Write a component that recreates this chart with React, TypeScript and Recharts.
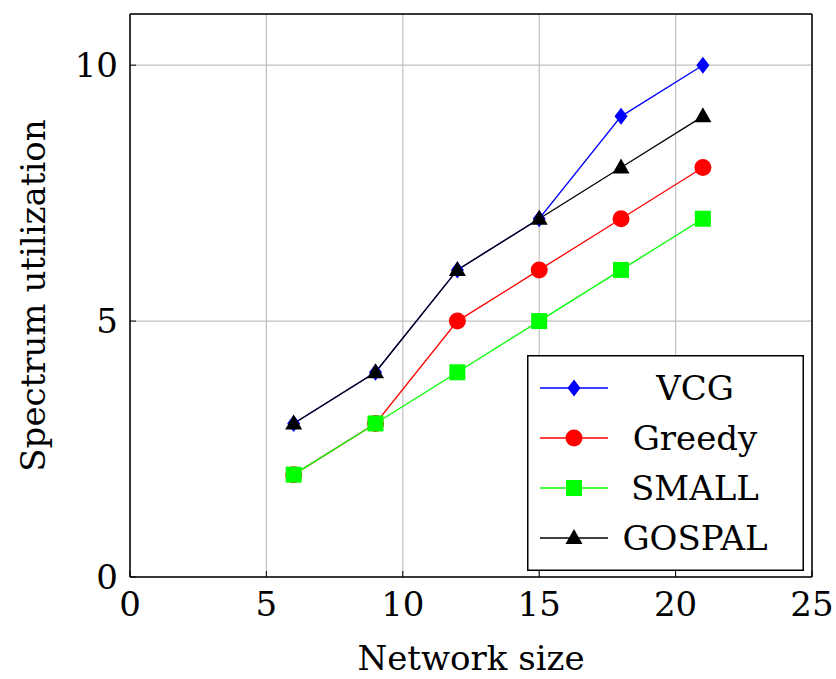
import React from 'react';
import { LineChart, Line, XAxis, YAxis, CartesianGrid } from 'recharts';

const networkSize = [6, 9, 12, 15, 18, 21];
const vcg = [3, 4, 6, 7, 9, 10];
const greedy = [2, 3, 5, 6, 7, 8];
const small = [2, 3, 4, 5, 6, 7];
const gospal = [3, 4, 6, 7, 8, 9];

const xTicks = [0, 5, 10, 15, 20, 25];
const yTicks = [0, 5, 10];

const FONT = '"DejaVu Serif", serif';

const data = networkSize.map((n, i) => ({
  n,
  vcg: vcg[i],
  greedy: greedy[i],
  small: small[i],
  gospal: gospal[i],
}));

function Marker({ shape, cx, cy, color }: { shape: string; cx: number; cy: number; color: string }) {
  if (shape === 'diamond')
    return <polygon points={`${cx},${cy - 8.5} ${cx + 6.5},${cy} ${cx},${cy + 8.5} ${cx - 6.5},${cy}`} fill={color} />;
  if (shape === 'circle') return <circle cx={cx} cy={cy} r={8.5} fill={color} />;
  if (shape === 'square') return <rect x={cx - 8} y={cy - 8} width={16} height={16} fill={color} />;
  return <polygon points={`${cx},${cy - 9} ${cx + 8.5},${cy + 6} ${cx - 8.5},${cy + 6}`} fill={color} />;
}

const series = [
  { key: 'vcg', name: 'VCG', color: '#0000ff', shape: 'diamond' },
  { key: 'greedy', name: 'Greedy', color: '#ff0000', shape: 'circle' },
  { key: 'small', name: 'SMALL', color: '#00ff00', shape: 'square' },
  { key: 'gospal', name: 'GOSPAL', color: '#000000', shape: 'triangle' },
];

const LegendBox = () => (
  <svg width={277} height={216} style={{ display: 'block', position: 'absolute', left: 527, top: 355 }}>
    <rect x={0.75} y={0.75} width={275.5} height={214.5} fill="#fff" stroke="#000" strokeWidth={1.5} />
    {series.map((s, i) => {
      const y = 33 + i * 50;
      return (
        <g key={s.key}>
          <line x1={13} x2={81} y1={y} y2={y} stroke={s.color} strokeWidth={1.3} />
          <Marker shape={s.shape} cx={47} cy={y} color={s.color} />
          <text x={168} y={y} textAnchor="middle" dominantBaseline="central" fontFamily={FONT} fontSize={34} fill="#000">
            {s.name}
          </text>
        </g>
      );
    })}
  </svg>
);

const YLabel = (props: any) => {
  const vb = props.viewBox || { x: 0, y: 13, width: 130, height: 564 };
  const cx = vb.x + 33;
  const cy = vb.y + vb.height / 2;
  return (
    <text x={cx} y={cy} transform={`rotate(-90 ${cx} ${cy})`} textAnchor="middle" dominantBaseline="central" fontFamily={FONT} fontSize={34} fill="#000">
      Spectrum utilization
    </text>
  );
};

const XLabel = (props: any) => {
  const vb = props.viewBox || { x: 130, y: 577, width: 683, height: 102 };
  const cx = vb.x + vb.width / 2;
  return (
    <text x={cx} y={vb.y + 93} textAnchor="middle" fontFamily={FONT} fontSize={34} fill="#000">
      Network size
    </text>
  );
};

export default function App() {
  const tickStyle = { fontFamily: FONT, fontSize: 34, fill: '#000' };
  return (
    <div style={{ position: 'absolute', left: 0, top: 0, width: 836, height: 679, background: '#fff' }}>
      <LineChart width={836} height={679} data={data} margin={{ top: 13, right: 23, left: 0, bottom: 0 }}>
        <CartesianGrid stroke="#c0c0c0" strokeWidth={1.2} />
        <XAxis
          dataKey="n"
          type="number"
          domain={[0, 25]}
          ticks={xTicks}
          height={102}
          tick={tickStyle}
          tickSize={-6}
          tickMargin={21}
          axisLine={{ stroke: '#000', strokeWidth: 1.5 }}
          tickLine={{ stroke: '#000', strokeWidth: 1 }}
          label={<XLabel />}
        />
        <XAxis
          xAxisId="top"
          orientation="top"
          type="number"
          domain={[0, 25]}
          ticks={xTicks}
          height={1}
          tick={false}
          tickSize={-6}
          axisLine={{ stroke: '#000', strokeWidth: 1.5 }}
          tickLine={{ stroke: '#000', strokeWidth: 1 }}
        />
        <YAxis
          type="number"
          domain={[0, 11]}
          ticks={yTicks}
          width={130}
          tick={tickStyle}
          tickSize={-6}
          tickMargin={18}
          axisLine={{ stroke: '#000', strokeWidth: 1.5 }}
          tickLine={{ stroke: '#000', strokeWidth: 1 }}
          label={<YLabel />}
        />
        <YAxis
          yAxisId="right"
          orientation="right"
          type="number"
          domain={[0, 11]}
          ticks={yTicks}
          width={1}
          tick={false}
          tickSize={-6}
          axisLine={{ stroke: '#000', strokeWidth: 1.5 }}
          tickLine={{ stroke: '#000', strokeWidth: 1 }}
        />
        {series.map((s) => (
          <Line
            key={s.key}
            dataKey={s.key}
            name={s.name}
            type="linear"
            stroke={s.color}
            strokeWidth={1.3}
            isAnimationActive={false}
            dot={(p: any) => <Marker key={`${s.key}-${p.index}`} shape={s.shape} cx={p.cx} cy={p.cy} color={s.color} />}
            activeDot={false}
          />
        ))}
      </LineChart>
      <LegendBox />
    </div>
  );
}
